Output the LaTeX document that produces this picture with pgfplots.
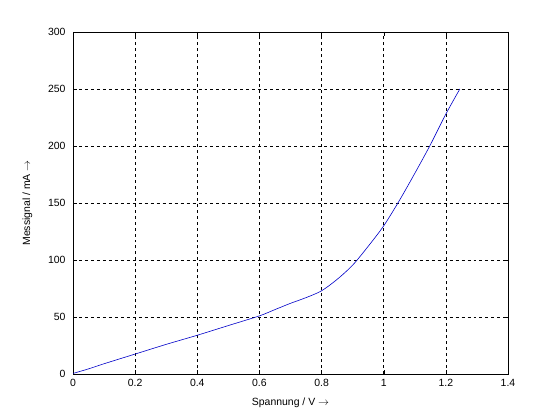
\documentclass[border=0pt]{standalone}
\usepackage{fontspec}
\setmainfont{Liberation Sans}
\usepackage{pgfplots}
\pgfplotsset{compat=1.18}
\begin{document}
\begin{tikzpicture}
\useasboundingbox (0,0) rectangle (560bp,420bp);
\begin{axis}[
  at={(73bp,46bp)}, anchor=south west,
  width=435bp, height=342bp, scale only axis,
  xmin=0, xmax=1.4, ymin=0, ymax=300,
  xtick={0,0.2,...,1.4}, ytick={0,50,...,300},
  xticklabels={0,0.2,0.4,0.6,0.8,1,1.2,1.4},
  grid=major,
  major grid style={black, dashed, line width=0.5pt},
  axis line style={black, line width=0.5pt},
  tick align=inside, tick pos=both,
  major tick length=4bp,
  tick style={black},
  /pgf/number format/assume math mode=true,
  ticklabel style={font=\fontsize{10.5}{12}\selectfont},
  xticklabel style={yshift=-2bp},
  yticklabel style={xshift=-4bp},
  label style={font=\fontsize{10.5}{12}\selectfont},
  xlabel={Spannung / V $\rightarrow$},
  ylabel={Messignal / mA $\rightarrow$},
  xlabel style={yshift=-4bp},
  ylabel style={yshift=9bp},
]
\addplot[color={rgb,255:red,0;green,0;blue,200}, line width=0.6pt, smooth] coordinates {
(0,0.5) (0.05,4.5) (0.1,9) (0.2,17.5) (0.3,26) (0.4,34) (0.5,42.5) (0.6,51)
(0.65,56.5) (0.7,62) (0.75,67) (0.8,73) (0.85,83) (0.9,95.5) (0.95,112)
(1.0,130) (1.05,152) (1.1,176) (1.15,201) (1.2,228) (1.245,250)
};
\end{axis}
\end{tikzpicture}
\end{document}
